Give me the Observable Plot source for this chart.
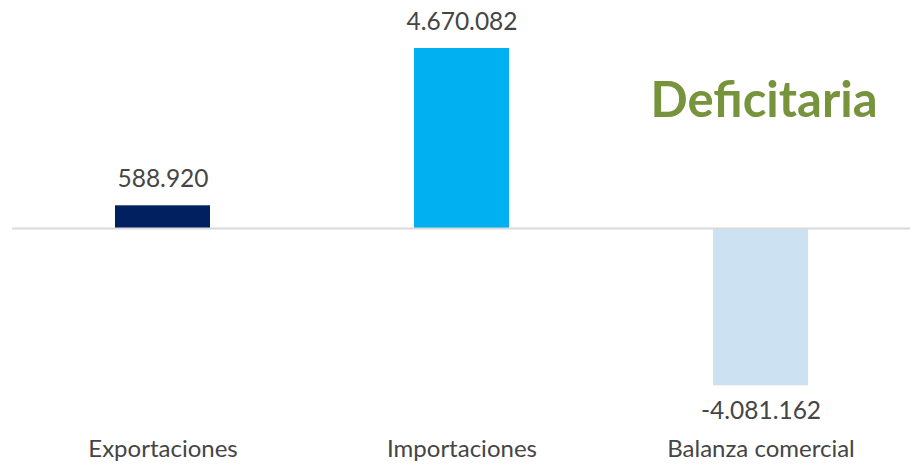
<!DOCTYPE html>
<html>
<head>
<meta charset="utf-8">
<script src="https://cdn.jsdelivr.net/npm/d3@7"></script>
<script src="https://cdn.jsdelivr.net/npm/@observablehq/plot@0.6"></script>
<style>
  html, body { margin: 0; padding: 0; background: #ffffff; }
  #chart { width: 915px; height: 465px; }
  svg { display: block; }
</style>
</head>
<body>
<div id="chart"></div>
<script>
const categories = ["Exportaciones", "Importaciones", "Balanza comercial"];
const values = [588920, 4670082, -4081162];
const colors = ["#002060", "#00B0F0", "#CCE2F2"];
const annotation = "Deficitaria";

const data = categories.map((c, i) => ({category: c, value: values[i], color: colors[i]}));
const fmt = d3.formatLocale({decimal: ",", thousands: ".", grouping: [3], currency: ["", ""], minus: "-"}).format(",d");

const font = "Lato, 'Noto Sans', sans-serif";

const chart = Plot.plot({
  width: 915,
  height: 465,
  marginTop: 0,
  marginLeft: 12,
  marginRight: 5,
  marginBottom: 32,
  style: {fontFamily: font, background: "#ffffff", color: "#404040"},
  x: {domain: categories, range: [11.5, 911.5], paddingInner: 0.6833, paddingOuter: 0.34167, label: null},
  y: {domain: [0, 4670082], range: [228, 48], axis: null},
  marks: [
    Plot.barY(data, {x: "category", y: "value", fill: "color"}),
    Plot.ruleY([0], {stroke: "#D9D9D9", strokeWidth: 2}),
    Plot.text(data.filter(d => d.value >= 0), {x: "category", y: "value", text: d => fmt(d.value), lineAnchor: "bottom", dy: -19, fontSize: 24.5, fill: "#454545"}),
    Plot.text(data.filter(d => d.value < 0), {x: "category", y: "value", text: d => fmt(d.value), lineAnchor: "top", dy: 16, fontSize: 24.5, fill: "#454545"}),
    Plot.axisX({anchor: "bottom", tickSize: 0, tickPadding: 6, fontSize: 24, fill: "#454545", label: null}),
    Plot.text([annotation], {frameAnchor: "top-right", dx: -33, dy: 101, text: d => d, fontSize: 49, fontWeight: "bold", fill: "#77933C", textAnchor: "end", lineAnchor: "middle"})
  ]
});
document.getElementById("chart").append(chart);
</script>
</body>
</html>
